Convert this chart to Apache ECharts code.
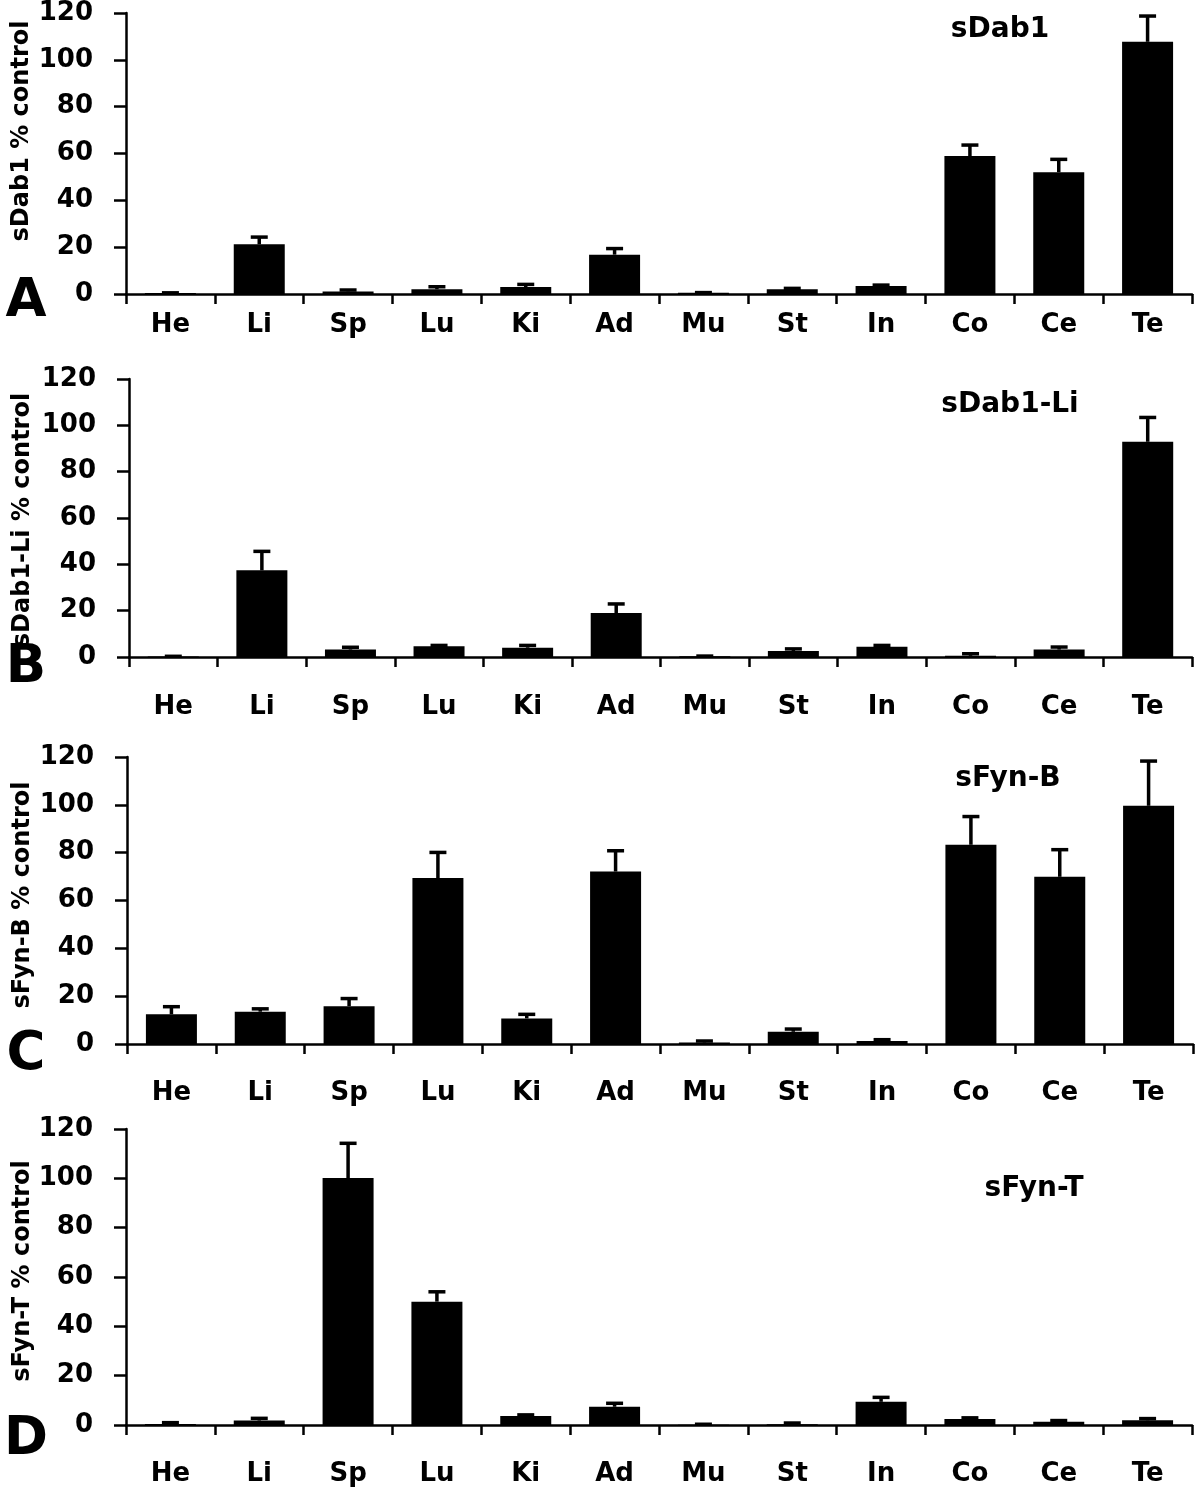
<!DOCTYPE html>
<html>
<head>
<meta charset="utf-8">
<script src="https://cdn.jsdelivr.net/npm/echarts@6/dist/echarts.min.js"></script>
<style>
html,body{margin:0;padding:0;background:#fff;}
#chart{width:1200px;height:1493px;}
</style>
</head>
<body>
<div id="chart"></div>
<script>
// ---- data ----
const categories = ['He','Li','Sp','Lu','Ki','Ad','Mu','St','In','Co','Ce','Te'];
const yTickValues = [0, 20, 40, 60, 80, 100, 120];

const sDab1Values   = [0.4, 21.2, 1.1, 2.0, 3.0, 16.8, 0.5, 2.0, 3.4, 58.9, 52.0, 107.7];
const sDab1Errors   = [0.1, 3.1, 0.6, 1.1, 1.1, 2.6, 0.1, 0.4, 0.4, 4.7, 5.5, 11.0];

const sDab1LiValues = [0.2, 37.4, 3.2, 4.6, 4.0, 19.0, 0.3, 2.6, 4.4, 0.5, 3.2, 92.9];
const sDab1LiErrors = [0.1, 8.2, 1.0, 0.4, 1.0, 3.9, 0.1, 0.9, 0.6, 0.9, 1.1, 10.5];

const sFynBValues   = [12.4, 13.5, 15.8, 69.4, 10.7, 72.1, 0.6, 5.1, 1.25, 83.3, 69.9, 99.6];
const sFynBErrors   = [3.2, 1.2, 3.2, 10.7, 1.7, 8.7, 0.65, 1.15, 0.55, 11.8, 11.35, 18.7];

const sFynTValues   = [0.4, 1.8, 100.1, 50.0, 3.6, 7.4, 0.1, 0.3, 9.4, 2.4, 1.3, 1.9];
const sFynTErrors   = [0.55, 0.9, 14.1, 4.0, 0.5, 1.4, 0.2, 0.5, 1.8, 0.5, 0.5, 0.7];

const panelTitles = ['sDab1', 'sDab1-Li', 'sFyn-B', 'sFyn-T'];
const yAxisNames = ['sDab1 % control', 'sDab1-Li % control', 'sFyn-B % control', 'sFyn-T % control'];
const panelLetters = ['A', 'B', 'C', 'D'];

// ---- layout ----
const FONT = 'DejaVu Sans';
const panels = [
  {values: sDab1Values,   errors: sDab1Errors,   grid: {left:126, top:11,   width:1066, height:283}, labelMargin: 18,
   title:[1000, 30], yname:[22, 131], letter:[26, 302]},
  {values: sDab1LiValues, errors: sDab1LiErrors, grid: {left:129, top:379,  width:1063, height:278}, labelMargin: 37,
   title:[1010, 405], yname:[23, 520], letter:[26, 668]},
  {values: sFynBValues,   errors: sFynBErrors,   grid: {left:127, top:757,  width:1066, height:287}, labelMargin: 36,
   title:[1008, 779], yname:[23, 895], letter:[26, 1055]},
  {values: sFynTValues,   errors: sFynTErrors,   grid: {left:126, top:1129, width:1066, height:296}, labelMargin: 36,
   title:[1034, 1189], yname:[23, 1271], letter:[26, 1440]}
];

const grids = [], xAxes = [], yAxes = [], series = [], graphics = [];
panels.forEach((p, i) => {
  grids.push(Object.assign({containLabel:false}, p.grid));
  xAxes.push({
    type: 'category', gridIndex: i, data: categories,
    boundaryGap: true,
    axisLine: {show: true, lineStyle: {color: '#000', width: 2.5}},
    axisTick: {show: true, alignWithLabel: false, length: 10, lineStyle: {color: '#000', width: 2.5}},
    axisLabel: {color: '#000', fontFamily: FONT, fontWeight: 'bold', fontSize: 26, margin: p.labelMargin, interval: 0},
    splitLine: {show: false}
  });
  yAxes.push({
    type: 'value', gridIndex: i, min: yTickValues[0], max: yTickValues[yTickValues.length-1], interval: yTickValues[1]-yTickValues[0],
    axisLine: {show: true, onZero: false, lineStyle: {color: '#000', width: 2.5}},
    axisTick: {show: true, length: 12, lineStyle: {color: '#000', width: 2.5}},
    axisLabel: {color: '#000', fontFamily: FONT, fontWeight: 'bold', fontSize: 26, margin: 33},
    splitLine: {show: false}
  });
  series.push({
    type: 'bar', xAxisIndex: i, yAxisIndex: i, data: p.values, barWidth: 51,
    itemStyle: {color: '#000'}, silent: true, animation: false
  });
  series.push({
    type: 'custom', xAxisIndex: i, yAxisIndex: i,
    data: p.values.map((v, k) => [k, v, p.errors[k]]),
    animation: false, silent: true, z: 3,
    renderItem: function (params, api) {
      const k = api.value(0), v = api.value(1), e = api.value(2);
      const base = api.coord([k, v]);
      const top = api.coord([k, v + e]);
      const half = 8.5;
      return {
        type: 'group',
        children: [
          {type: 'line', shape: {x1: base[0], y1: base[1], x2: top[0], y2: top[1]},
           style: {stroke: '#000', lineWidth: 3.5}},
          {type: 'line', shape: {x1: top[0]-half, y1: top[1], x2: top[0]+half, y2: top[1]},
           style: {stroke: '#000', lineWidth: 3.5}}
        ]
      };
    }
  });
  graphics.push({type: 'text', x: p.title[0], y: p.title[1], silent: true,
    style: {text: panelTitles[i], fill: '#000', font: 'bold 28px "DejaVu Sans"', textAlign: 'center', textVerticalAlign: 'middle'}});
  graphics.push({type: 'text', x: p.yname[0], y: p.yname[1], rotation: Math.PI/2, silent: true,
    style: {text: yAxisNames[i], fill: '#000', font: 'bold 24px "DejaVu Sans"', textAlign: 'center', textVerticalAlign: 'middle'}});
  graphics.push({type: 'text', x: p.letter[0], y: p.letter[1], silent: true,
    style: {text: panelLetters[i], fill: '#000', font: 'bold 53px "DejaVu Sans"', textAlign: 'center', textVerticalAlign: 'middle'}});
});

const chart = echarts.init(document.getElementById('chart'), null, {renderer: 'canvas'});
chart.setOption({
  backgroundColor: '#fff',
  animation: false,
  grid: grids, xAxis: xAxes, yAxis: yAxes, series: series,
  graphic: graphics
});
</script>
</body>
</html>
